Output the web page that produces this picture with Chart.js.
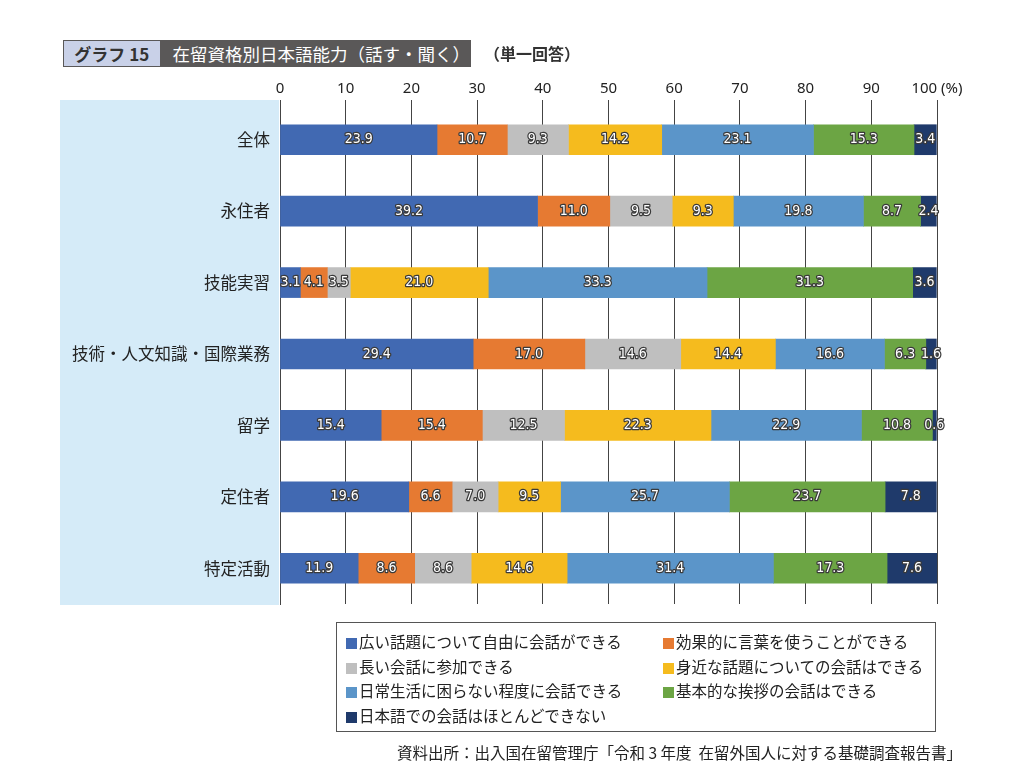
<!DOCTYPE html>
<html lang="ja">
<head>
<meta charset="UTF-8">
<title>在留資格別日本語能力（話す・聞く）</title>
<script src="https://cdn.jsdelivr.net/npm/chart.js"></script>
<style>
  body { margin: 0; background: #fff; font-family: "Noto Sans CJK JP", "Noto Sans", sans-serif; color: #222; }
  #wrap { position: relative; width: 1024px; height: 782px; overflow: hidden; }
  #chart { position: absolute; left: 0; top: 0; }
  .title-box { position: absolute; left: 63px; top: 40px; height: 25px; width: 406px; border: 1px solid #5a5858; display: flex; }
  .title-no { background: #c9d1e8; width: 100px; font-weight: bold; font-size: 17px; line-height: 25px; text-align: center; color: #333; border-right: 1px solid #5a5858; }
  .title-main { background: #5a5858; color: #fff; flex: 1; font-size: 17.5px; line-height: 25px; padding-left: 12px; white-space: nowrap; }
  .note { position: absolute; left: 484px; top: 40px; font-size: 16px; font-weight: bold; line-height: 27px; color: #333; }
  #legend { position: absolute; left: 336px; top: 622px; width: 600px; height: 110px; border: 1px solid #555; box-sizing: border-box; }
  .item { position: absolute; font-size: 15.5px; line-height: 20px; white-space: nowrap; color: #222; }
  .item span { display: inline-block; width: 11px; height: 11px; margin-right: 2px; vertical-align: -1px; }
  .source { position: absolute; right: 62px; top: 741px; font-size: 15.5px; line-height: 22px; color: #222; }
</style>
</head>
<body>
<div id="wrap">
  <canvas id="chart" width="1024" height="782"></canvas>
  <div class="title-box"><div class="title-no">グラフ 15</div><div class="title-main">在留資格別日本語能力（話す・聞く）</div></div>
  <div class="note">（単一回答）</div>
  <div id="legend"></div>
  <div class="source">資料出所：出入国在留管理庁「令和 3 年度&nbsp;&nbsp;在留外国人に対する基礎調査報告書」</div>
</div>
<script>
// categories (rows, top to bottom)
const categories = ['全体', '永住者', '技能実習', '技術・人文知識・国際業務', '留学', '定住者', '特定活動'];

// series names
const seriesNames = [
  '広い話題について自由に会話ができる',
  '効果的に言葉を使うことができる',
  '長い会話に参加できる',
  '身近な話題についての会話はできる',
  '日常生活に困らない程度に会話できる',
  '基本的な挨拶の会話はできる',
  '日本語での会話はほとんどできない'
];

// values (%) per series, in category order
const wideTopics   = [23.9, 39.2, 3.1, 29.4, 15.4, 19.6, 11.9];
const effective    = [10.7, 11.0, 4.1, 17.0, 15.4, 6.6, 8.6];
const longTalk     = [9.3, 9.5, 3.5, 14.6, 12.5, 7.0, 8.6];
const familiar     = [14.2, 9.3, 21.0, 14.4, 22.3, 9.5, 14.6];
const dailyLife    = [23.1, 19.8, 33.3, 16.6, 22.9, 25.7, 31.4];
const greetings    = [15.3, 8.7, 31.3, 6.3, 10.8, 23.7, 17.3];
const hardlyAny    = [3.4, 2.4, 3.6, 1.6, 0.6, 7.8, 7.6];

const seriesValues = [wideTopics, effective, longTalk, familiar, dailyLife, greetings, hardlyAny];
const colors = ['#4169b2', '#e67a32', '#bfbfbf', '#f5bb1e', '#5b95c9', '#6ca544', '#1f3a6b'];

// x axis ticks
const xTicks = [0, 10, 20, 30, 40, 50, 60, 70, 80, 90, 100];

// legend (two columns)
const legend = document.getElementById('legend');
seriesNames.forEach((name, i) => {
  const d = document.createElement('div');
  d.className = 'item';
  d.style.left = (i % 2 === 0 ? 9 : 326) + 'px';
  d.style.top = (8 + Math.floor(i / 2) * 24.5) + 'px';
  d.innerHTML = '<span style="background:' + colors[i] + '"></span>' + name;
  legend.appendChild(d);
});

// light blue panel behind the row labels
const panelPlugin = {
  id: 'panel',
  beforeDraw(chart) {
    const ctx = chart.ctx, a = chart.chartArea;
    ctx.save();
    ctx.fillStyle = '#d5ebf8';
    ctx.fillRect(60, a.top - 4, a.left - 61, a.bottom - a.top + 5);
    ctx.restore();
  }
};

// white value labels with dark outline
const valuePlugin = {
  id: 'values',
  afterDatasetsDraw(chart) {
    const ctx = chart.ctx;
    ctx.save();
    ctx.font = '14px "DejaVu Sans Condensed", sans-serif';
    ctx.textAlign = 'center';
    ctx.textBaseline = 'middle';
    ctx.lineJoin = 'round';
    chart.data.datasets.forEach((ds, di) => {
      chart.getDatasetMeta(di).data.forEach((el, i) => {
        const t = ds.data[i].toFixed(1);
        const x = (el.x + el.base) / 2;
        ctx.lineWidth = 2.5;
        ctx.strokeStyle = '#3a3a3a';
        ctx.strokeText(t, x, el.y);
        ctx.fillStyle = '#fff';
        ctx.fillText(t, x, el.y);
      });
    });
    ctx.restore();
  }
};

new Chart(document.getElementById('chart'), {
  type: 'bar',
  data: {
    labels: categories,
    datasets: seriesNames.map((name, i) => ({
      label: name,
      data: seriesValues[i],
      backgroundColor: colors[i],
      borderWidth: 0,
      barThickness: 30
    }))
  },
  options: {
    indexAxis: 'y',
    responsive: false,
    animation: false,
    layout: { padding: { left: 60, right: 87, top: 0, bottom: 178 } },
    plugins: { legend: { display: false }, tooltip: { enabled: false } },
    scales: {
      x: {
        position: 'top',
        stacked: true,
        min: 0,
        max: 100,
        afterBuildTicks(scale) { scale.ticks = xTicks.map(v => ({ value: v })); },
        afterFit(scale) { scale.height = 104; },
        grid: { color: '#444', lineWidth: 1, tickLength: 4, drawTicks: true },
        border: { display: false },
        ticks: {
          padding: 2,
          color: '#222',
          font: { family: '"Noto Sans", sans-serif', size: 15 },
          callback: v => v === 100 ? '100 (%)' : String(v)
        }
      },
      y: {
        stacked: true,
        afterFit(scale) { scale.width = 220; },
        grid: { display: false },
        border: { display: true, color: '#444', width: 1 },
        ticks: {
          padding: 2,
          color: '#222',
          font: { family: '"Noto Sans CJK JP", sans-serif', size: 16.5 }
        }
      }
    }
  },
  plugins: [panelPlugin, valuePlugin]
});
</script>
</body>
</html>
